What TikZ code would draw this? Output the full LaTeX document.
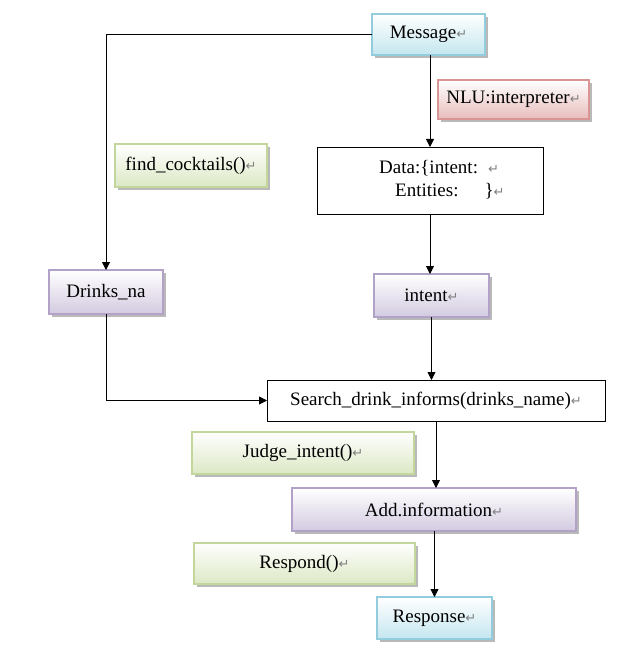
\documentclass[tikz,border=0pt]{standalone}
\usepackage{fontspec}
\setmainfont{Liberation Serif}[Ligatures=TeX]
\newfontfamily\symfont{DejaVu Sans}
\usetikzlibrary{shadows,arrows.meta}
\definecolor{cyanbd}{HTML}{93CDDD}
\definecolor{cyanbt}{HTML}{C4E6EF}
\definecolor{redbd}{HTML}{D99694}
\definecolor{redbt}{HTML}{E8BDBC}
\definecolor{greenbd}{HTML}{C3D69B}
\definecolor{greenbt}{HTML}{DCE8C4}
\definecolor{purpbd}{HTML}{B3A2C7}
\definecolor{purpbt}{HTML}{D3CAE0}
\newcommand{\retmark}{{\symfont\color{gray}\fontsize{13}{13}\selectfont ↵}}
\tikzset{
  box/.style={rectangle, inner sep=0pt, outer sep=0pt, line width=1.6pt,
    font=\rmfamily\fontsize{19}{22}\selectfont,
    drop shadow={shadow xshift=3pt, shadow yshift=-3pt, fill=gray!55, opacity=1}},
  cyanbox/.style={box, draw=cyanbd, top color=white, bottom color=cyanbt},
  redbox/.style={box, draw=redbd, top color=white, bottom color=redbt},
  greenbox/.style={box, draw=greenbd, top color=white, bottom color=greenbt},
  purpbox/.style={box, draw=purpbd, top color=white, bottom color=purpbt},
  plainbox/.style={rectangle, draw=black, fill=white, line width=0.8pt, inner sep=0pt, outer sep=0pt,
    font=\rmfamily\fontsize{19}{22}\selectfont},
  txt/.style={inner sep=0pt, anchor=west, font=\rmfamily\fontsize{19}{22}\selectfont},
  arr/.style={line width=0.8pt, -{Triangle[length=8pt,width=8pt]}}
}
\begin{document}
\begin{tikzpicture}[x=1pt,y=-1pt]
\fill[white] (0,0) rectangle (627,663);
\useasboundingbox (0,0) rectangle (627,663);

\node[cyanbox, minimum width=113pt, minimum height=41pt] (msg) at (428.5,34.5) {Message\retmark};
\node[redbox, minimum width=151pt, minimum height=39pt] (nlu) at (513.5,99.5) {NLU:interpreter\retmark};
\node[plainbox, minimum width=226pt, minimum height=67pt] (data) at (430,180.5) {};
\node[txt] (dl1) at (379,168) {Data:\{intent:\hspace{10pt}\retmark};
\node[txt] (dl2) at (395,191) {Entities:\hspace{26pt}\}\retmark};
\node[greenbox, minimum width=152pt, minimum height=43pt] (find) at (191,165.5) {find\_cocktails()\retmark};
\node[purpbox, minimum width=114pt, minimum height=44pt] (drinks) at (106,292) {Drinks\_na};
\node[purpbox, minimum width=115pt, minimum height=43pt] (intent) at (431.5,295.5) {intent\retmark};
\node[plainbox, minimum width=338pt, minimum height=41pt] (search) at (436,400.5) {Search\_drink\_informs(drinks\_name)\retmark};
\node[greenbox, minimum width=222pt, minimum height=42pt] (judge) at (303,453) {Judge\_intent()\retmark};
\node[purpbox, minimum width=284pt, minimum height=43pt] (add) at (434,509.5) {Add.information\retmark};
\node[greenbox, minimum width=221pt, minimum height=41pt] (respond) at (304.5,563.5) {Respond()\retmark};
\node[cyanbox, minimum width=115pt, minimum height=42pt] (response) at (434.5,618) {Response\retmark};

\draw[arr] (msg.west) -| (drinks.north);
\draw[arr] (msg.south -| data.north) -- (data.north);
\draw[arr] (data.south) -- (data.south |- intent.north);
\draw[arr] (intent.south) -- (intent.south |- search.north);
\draw[arr] (drinks.south) |- (search.west);
\draw[arr] (search.south) -- (search.south |- add.north);
\draw[arr] (add.south -| response.north) -- (response.north);
\end{tikzpicture}
\end{document}
